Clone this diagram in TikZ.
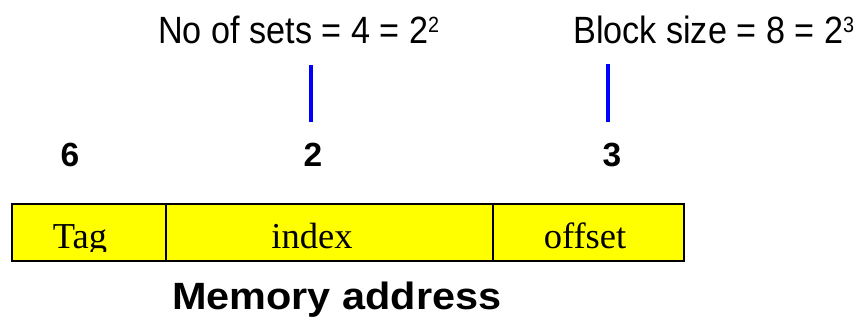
\documentclass[tikz,border=0pt]{standalone}
\usepackage{fontspec}
\setmainfont{Liberation Serif}
\setsansfont{Liberation Sans}
\definecolor{fieldyellow}{RGB}{255,255,0}
\definecolor{barblue}{RGB}{0,0,255}
\newcommand{\supnum}[1]{{\fontsize{22}{22}\selectfont\raisebox{11.5pt}{#1}}}
\begin{document}
\begin{tikzpicture}[x=1pt,y=-1pt,
  toplabel/.style={font=\sffamily\fontsize{38}{38}\selectfont, inner sep=0pt, anchor=base west},
  bitcount/.style={font=\sffamily\bfseries\fontsize{33.5}{33.5}\selectfont, inner sep=0pt, anchor=base},
  cell/.style={draw=black, line width=1.6pt, fill=fieldyellow, inner sep=0pt, minimum height=57pt},
  celltext/.style={font=\rmfamily\fontsize{36.5}{36.5}\selectfont, inner sep=0pt, anchor=base},
  caption/.style={font=\sffamily\bfseries\fontsize{38}{38}\selectfont, inner sep=0pt, anchor=base west},
  bar/.style={draw=barblue, line width=3.4pt}]
\useasboundingbox (0,0) rectangle (861,320);

% headings above the address
\node[toplabel] (sets) at (158,44) {\scalebox{0.9}[1]{No of sets = 4 = 2\supnum{2}}};
\node[toplabel] (bsize) at (573,44) {\scalebox{0.9}[1]{Block size = 8 = 2\supnum{3}}};

% blue marker bars
\coordinate (setsbarA) at (311,65);
\coordinate (setsbarB) at (311,122);
\coordinate (bsizebarA) at (608,64);
\coordinate (bsizebarB) at (608,122);
\draw[bar] (setsbarA) -- (setsbarB);
\draw[bar] (bsizebarA) -- (bsizebarB);

% field widths in bits
\node[bitcount] (nTag) at (70,167) {6};
\node[bitcount] (nIndex) at (313,167) {2};
\node[bitcount] (nOffset) at (612,167) {3};

% address fields
\node[cell, minimum width=154pt] (tagcell) at (89,232.5) {};
\node[cell, minimum width=327pt] (indexcell) at (329.5,232.5) {};
\node[cell, minimum width=191pt] (offsetcell) at (588.5,232.5) {};

\begin{scope}
  \clip (12,204) rectangle (684,251.5);
  \node[celltext] (tagtext) at (80,248.5) {Tag};
  \node[celltext] (indextext) at (312,248.5) {index};
  \node[celltext] (offsettext) at (585,248.5) {offset};
\end{scope}

% caption
\node[caption] (memaddr) at (172,309) {\scalebox{1.09}[1]{Memory address}};
\end{tikzpicture}
\end{document}
